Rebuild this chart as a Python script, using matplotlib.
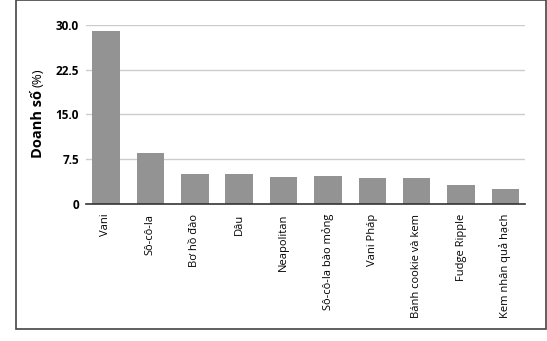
import matplotlib
matplotlib.use("Agg")
import matplotlib.pyplot as plt
from matplotlib.patches import Rectangle

# data
flavors = ["Vani", "Sô-cô-la", "Bơ hồ đào", "Dâu", "Neapolitan",
           "Sô-cô-la bào mỏng", "Vani Pháp", "Bánh cookie và kem",
           "Fudge Ripple", "Kem nhân quả hạch"]
sales_pct = [28.9, 8.6, 5.0, 5.0, 4.6, 4.7, 4.3, 4.3, 3.2, 2.5]
y_ticks = [0, 7.5, 15.0, 22.5, 30.0]
y_tick_labels = ["0", "7.5", "15.0", "22.5", "30.0"]

W, H = 547, 341
fig = plt.figure(figsize=(W / 100, H / 100), dpi=100)
plt.rcParams['font.family'] = ['Open Sans', 'DejaVu Sans']

# axes placed in pixel coords: left 86, right 525, top 24.7, bottom 204
ax = fig.add_axes([86 / W, 1 - 204 / H, (525 - 86) / W, (204 - 24.7) / H])

x = list(range(len(flavors)))
ax.bar(x, sales_pct, width=0.62, color="#939393", zorder=3)

ax.set_xlim(-0.45, len(flavors) - 0.56)
ax.set_ylim(0, 30)
ax.set_yticks(y_ticks)
ax.set_yticklabels(y_tick_labels, fontweight="bold", fontsize=8.5)
ax.set_xticks(x)
ax.set_xticklabels(flavors, rotation=90, fontsize=8)
ax.tick_params(axis="both", length=0, colors="black")
ax.tick_params(axis="y", pad=5)
ax.tick_params(axis="x", pad=7)

for v in y_ticks[1:]:
    ax.axhline(v, color="#cccccc", lw=1.0, zorder=1)

for s in ["top", "right", "left"]:
    ax.spines[s].set_visible(False)
ax.spines["bottom"].set_color("#333333")
ax.spines["bottom"].set_linewidth(1.2)
ax.spines["bottom"].set_zorder(4)

# y label: bold part + lighter part
fig.text(38 / W, 1 - 158 / H, "Doanh số", rotation=90, fontweight="bold",
         fontsize=10.5, ha="center", va="bottom")
fig.text(38 / W, 1 - 68 / H, "(%)", rotation=90, fontsize=9.5,
         ha="center", va="top")

# outer frame
fig.patches.append(Rectangle((16 / W, 1 - 329 / H), (546 - 16) / W, 329 / H,
                             transform=fig.transFigure, fill=False,
                             edgecolor="#444444", lw=1.2))

fig.savefig("out.png", dpi=100)
